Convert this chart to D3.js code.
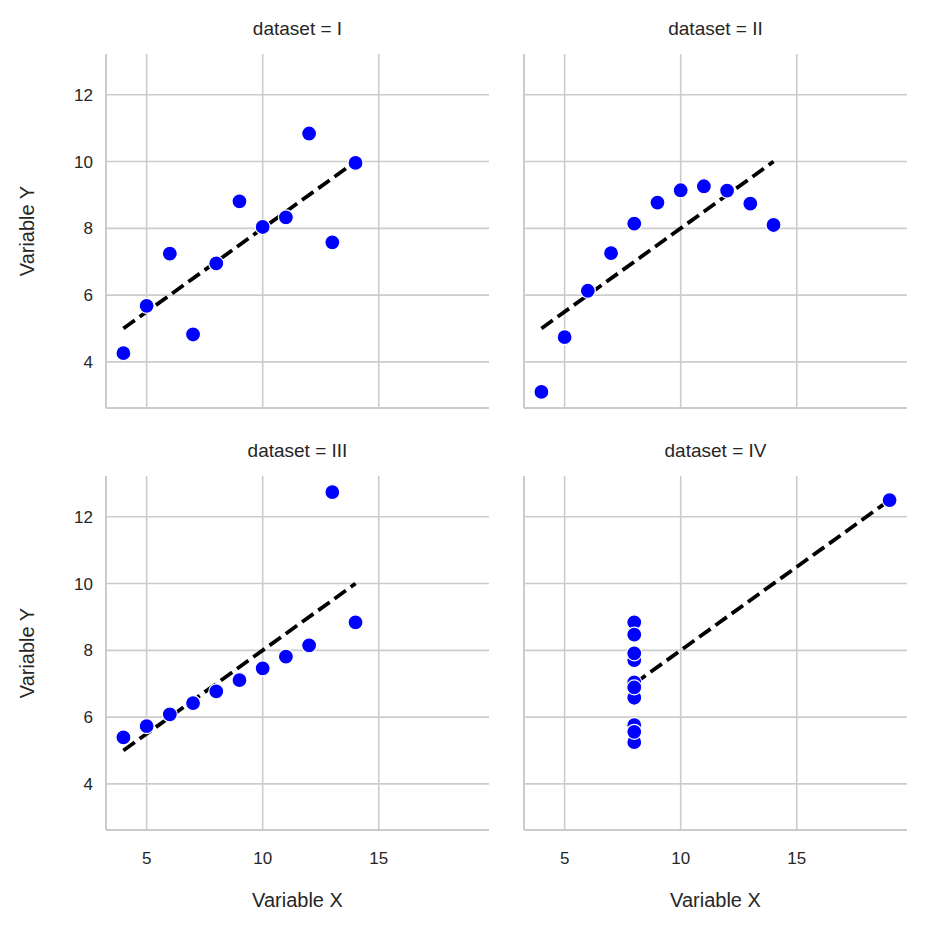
<!DOCTYPE html><html><head><meta charset="utf-8">
<script src="https://cdn.jsdelivr.net/npm/d3@7"></script>
<style>body{margin:0;background:#fff}text{font-family:"Liberation Sans",Arial,sans-serif;fill:#262626}</style></head><body>
<svg id="c" width="929" height="933"></svg>
<script>
const datasets=["I","II","III","IV"];
const xI=[10,8,13,9,11,14,6,4,12,7,5];
const yI=[8.04,6.95,7.58,8.81,8.33,9.96,7.24,4.26,10.84,4.82,5.68];
const yII=[9.14,8.14,8.74,8.77,9.26,8.10,6.13,3.10,9.13,7.26,4.74];
const yIII=[7.46,6.77,12.74,7.11,7.81,8.84,6.08,5.39,8.15,6.42,5.73];
const xIV=[8,8,8,8,8,8,8,19,8,8,8];
const yIV=[6.58,5.76,7.71,8.84,8.47,7.04,5.25,12.50,5.56,7.91,6.89];
const xs=[xI,xI,xI,xIV], ys=[yI,yII,yIII,yIV];
const xTicks=[5,10,15], yTicks=[4,6,8,10,12];
const svg=d3.select("#c");
const W=383,H=354, lefts=[106,524], tops=[54,476];
datasets.forEach((name,i)=>{
  const col=i%2,row=Math.floor(i/2);
  const g=svg.append("g").attr("transform",`translate(${lefts[col]},${tops[row]})`);
  const x=d3.scaleLinear().domain([3.25,19.75]).range([0,W]);
  const y=d3.scaleLinear().domain([2.618,13.222]).range([H,0]);
  xTicks.forEach(t=>g.append("line").attr("x1",x(t)).attr("x2",x(t)).attr("y1",0).attr("y2",H).attr("stroke","#cccccc").attr("stroke-width",1.6));
  yTicks.forEach(t=>g.append("line").attr("y1",y(t)).attr("y2",y(t)).attr("x1",0).attr("x2",W).attr("stroke","#cccccc").attr("stroke-width",1.6));
  g.append("line").attr("x1",0).attr("x2",0).attr("y1",0).attr("y2",H).attr("stroke","#cccccc").attr("stroke-width",2);
  g.append("line").attr("x1",0).attr("x2",W).attr("y1",H).attr("y2",H).attr("stroke","#cccccc").attr("stroke-width",2);
  if(col===0){
    yTicks.forEach(t=>g.append("text").attr("x",-13).attr("y",y(t)).attr("dy","0.36em").attr("text-anchor","end").attr("font-size",17).text(t));
    g.append("text").attr("transform",`translate(-72,${H/2}) rotate(-90)`).attr("text-anchor","middle").attr("font-size",20).text("Variable Y");
  }
  if(row===1){
    xTicks.forEach(t=>g.append("text").attr("x",x(t)).attr("y",H+34).attr("text-anchor","middle").attr("font-size",17).text(t));
    g.append("text").attr("x",W/2).attr("y",H+77).attr("text-anchor","middle").attr("font-size",20).text("Variable X");
  }
  g.append("text").attr("x",W/2).attr("y",-19).attr("text-anchor","middle").attr("font-size",19).text("dataset = "+name);
  const xv=xs[i],yv=ys[i];
  const x0=d3.min(xv),x1=d3.max(xv);
  g.append("line").attr("x1",x(x0)).attr("y1",y(3+0.5*x0)).attr("x2",x(x1)).attr("y2",y(3+0.5*x1))
   .attr("stroke","#000").attr("stroke-width",3.8).attr("stroke-dasharray","14,6");
  g.selectAll("circle.p").data(xv.map((d,k)=>[d,yv[k]])).enter().append("circle")
   .attr("cx",d=>x(d[0])).attr("cy",d=>y(d[1])).attr("r",7.5).attr("fill","#0000ff").attr("stroke","#fff").attr("stroke-width",1.2);
});
</script></body></html>
